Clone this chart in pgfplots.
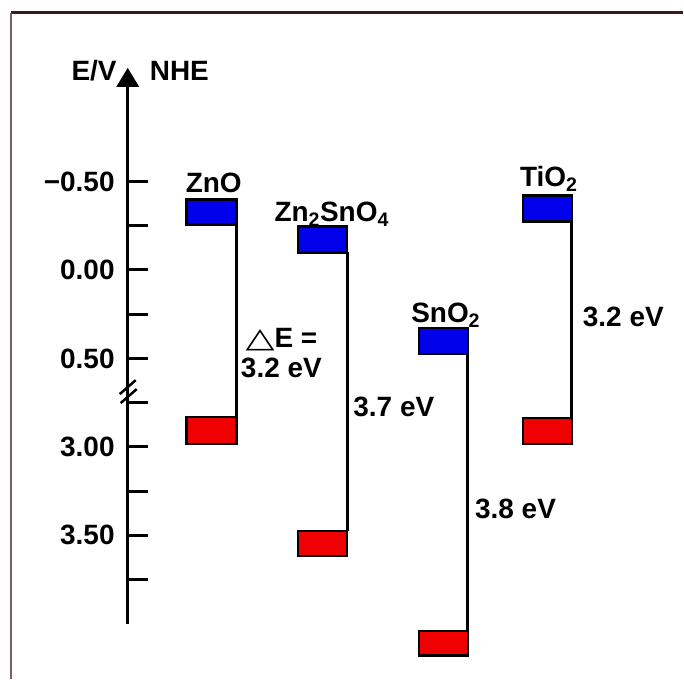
\documentclass[border=0pt]{standalone}
\usepackage{graphicx}
\usepackage{pgfplots}
\pgfplotsset{compat=1.18}
\usetikzlibrary{arrows.meta}
\usepackage{fontspec}
\setmainfont{Liberation Sans}
\newfontfamily\dejavu{DejaVu Sans}

\definecolor{cbblue}{RGB}{0,0,235}
\definecolor{vbred}{RGB}{240,0,0}
\definecolor{frametop}{RGB}{60,25,25}
\definecolor{frameleft}{RGB}{125,95,95}

\newcommand{\lab}{\fontsize{28}{32}\selectfont\bfseries}

\begin{document}
\begin{tikzpicture}
\begin{axis}[
 scale only axis, width=556pt, height=557pt,
 xmin=128, xmax=684, ymin=-2.0, ymax=1.1433,
 axis x line=none, axis y line=left,
 y axis line style={line width=3.2pt, -{Triangle[length=19pt,width=22pt]}},
 ytick={0.5,0.25,0,-0.25,-0.5,-0.75,-1,-1.25,-1.5,-1.75},
 yticklabels={{\textbf{−0.50}},,{\textbf{0.00}},,{\textbf{0.50}},,{\textbf{3.00}},,{\textbf{3.50}},},
 tick align=inside, major tick length=20pt,
 ytick style={line width=3pt, black},
 yticklabel style={font=\lab, anchor=east, inner sep=0pt, xshift=-13pt},
 clip=false,
]
% frame
\draw[frametop, line width=3pt] (axis cs:11,1.4537) -- (axis cs:684,1.4537);
\draw[frameleft, line width=2.2pt] (axis cs:11,1.4537) -- (axis cs:11,-2.3104);
\path (axis cs:0,1.527) rectangle (axis cs:684,-2.3104);

% band gap lines
\addplot[black, line width=3pt] coordinates {(237,0.2573)(237,-0.8318)};
\addplot[black, line width=3pt] coordinates {(348,0.0993)(348,-1.4752)};
\addplot[black, line width=3pt] coordinates {(469,-0.4763)(469,-2.0395)};
\addplot[black, line width=3pt] coordinates {(573,0.2743)(573,-0.8375)};

% conduction bands (blue)
\addplot[draw=black, line width=2.2pt, fill=cbblue, line join=miter] coordinates {(187,0.3984)(237,0.3984)(237,0.2573)(187,0.2573)} -- cycle;
\addplot[draw=black, line width=2.2pt, fill=cbblue, line join=miter] coordinates {(299,0.2460)(348,0.2460)(348,0.0993)(299,0.0993)} -- cycle;
\addplot[draw=black, line width=2.2pt, fill=cbblue, line join=miter] coordinates {(420,-0.3296)(469,-0.3296)(469,-0.4763)(420,-0.4763)} -- cycle;
\addplot[draw=black, line width=2.2pt, fill=cbblue, line join=miter] coordinates {(524,0.4210)(573,0.4210)(573,0.2743)(524,0.2743)} -- cycle;

% valence bands (red)
\addplot[draw=black, line width=2.2pt, fill=vbred, line join=miter] coordinates {(187,-0.8318)(237,-0.8318)(237,-0.9842)(187,-0.9842)} -- cycle;
\addplot[draw=black, line width=2.2pt, fill=vbred, line join=miter] coordinates {(299,-1.4752)(348,-1.4752)(348,-1.6163)(299,-1.6163)} -- cycle;
\addplot[draw=black, line width=2.2pt, fill=vbred, line join=miter] coordinates {(420,-2.0395)(469,-2.0395)(469,-2.1806)(420,-2.1806)} -- cycle;
\addplot[draw=black, line width=2.2pt, fill=vbred, line join=miter] coordinates {(524,-0.8375)(573,-0.8375)(573,-0.9842)(524,-0.9842)} -- cycle;

% axis break
\draw[black, line width=2.5pt] (axis cs:120,-0.7020) -- (axis cs:136,-0.6230);
\draw[black, line width=2.5pt] (axis cs:121,-0.7526) -- (axis cs:137,-0.6736);

% labels
\node[font=\lab, anchor=base east, inner sep=0pt] at (axis cs:117,1.070) {E/V};
\node[font=\lab, anchor=base west, inner sep=0pt] at (axis cs:150,1.070) {NHE};
\node[font=\lab, anchor=base west, inner sep=0pt] at (axis cs:186,0.4379) {ZnO};
\node[font=\lab, anchor=base west, inner sep=0pt] at (axis cs:275,0.2731) {Zn\textsubscript{2}SnO\textsubscript{4}};
\node[font=\lab, anchor=base west, inner sep=0pt] at (axis cs:412,-0.2957) {SnO\textsubscript{2}};
\node[font=\lab, anchor=base west, inner sep=0pt] at (axis cs:521,0.4718) {TiO\textsubscript{2}};
\node[font=\lab, anchor=base, inner sep=0pt] at (axis cs:282,-0.4368) {\scalebox{1.35}[1.0]{\dejavu\mdseries △}E =};
\node[font=\lab, anchor=base, inner sep=0pt] at (axis cs:282,-0.6061) {3.2 eV};
\node[font=\lab, anchor=base west, inner sep=0pt] at (axis cs:354,-0.8262) {3.7 eV};
\node[font=\lab, anchor=base west, inner sep=0pt] at (axis cs:584,-0.3183) {3.2 eV};
\node[font=\lab, anchor=base west, inner sep=0pt] at (axis cs:476,-1.4074) {3.8 eV};
\end{axis}
\end{tikzpicture}
\end{document}
